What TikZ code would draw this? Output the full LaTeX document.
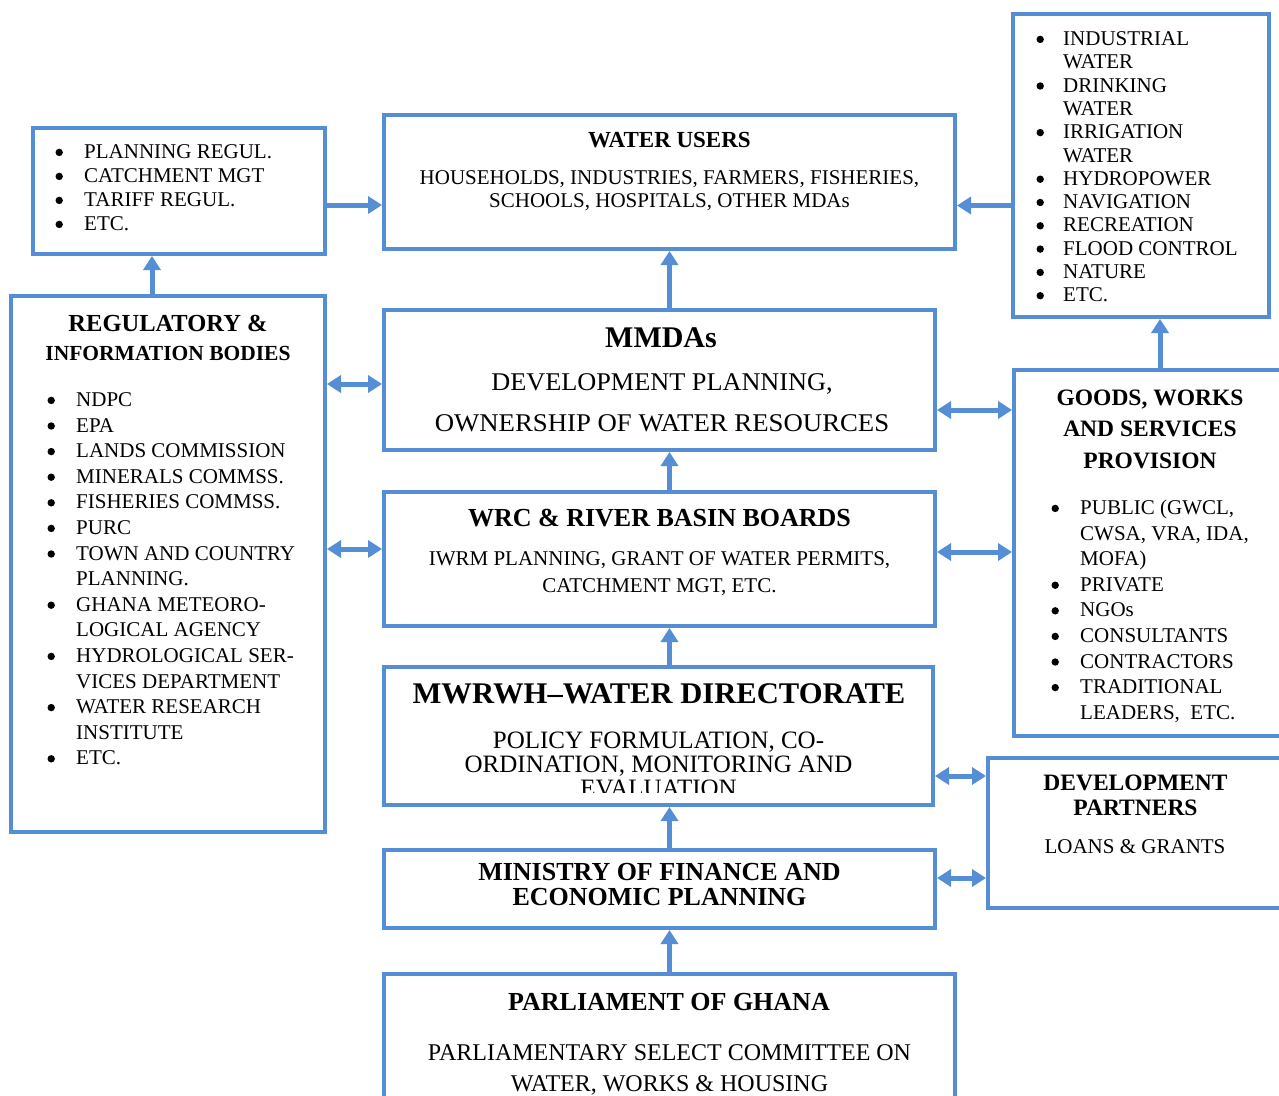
\documentclass[tikz,border=0pt]{standalone}
\usepackage{fontspec}
\setmainfont{Liberation Serif}
\usetikzlibrary{arrows.meta}
\definecolor{bl}{HTML}{558ED5}
\newcommand\bdot{\raisebox{2.4pt}{\tikz\fill[black] (0,0) circle (3.7pt);}}
\newcommand\bu{\llap{\bdot\hspace{21.3pt}}}
\newcommand\bc{\llap{\bdot\hspace{19.3pt}}}
\begin{document}
\begin{tikzpicture}[x=1pt,y=-1pt,
 bx/.style={draw=bl, line width=4pt, rectangle, inner sep=0pt},
 tx/.style={inner sep=0pt, anchor=base},
 ls/.style={inner sep=0pt, anchor=base west},
 arr/.style={draw=bl, line width=5pt, -{Triangle[length=14pt,width=17pt]}},
 darr/.style={draw=bl, line width=5pt, {Triangle[length=14pt,width=17pt]}-{Triangle[length=14pt,width=17pt]}}]
\clip (0,0) rectangle (1279,1095);
\fill[white] (0,0) rectangle (1279,1095);
% boxes
\node[bx, minimum width=292pt, minimum height=126pt] (A) at (179,191) {};
\node[bx, minimum width=571pt, minimum height=134pt] (B) at (669.5,182) {};
\node[bx, minimum width=256pt, minimum height=303pt] (C) at (1141,165.5) {};
\node[bx, minimum width=314pt, minimum height=536pt] (D) at (168,564) {};
\node[bx, minimum width=551pt, minimum height=140pt] (E) at (659.5,380) {};
\node[bx, minimum width=276pt, minimum height=366pt] (F) at (1152,553) {};
\node[bx, minimum width=551pt, minimum height=134pt] (G) at (659.5,559) {};
\node[bx, minimum width=549pt, minimum height=138pt] (H) at (658.5,736) {};
\node[bx, minimum width=302pt, minimum height=150pt] (I) at (1139,833) {};
\node[bx, minimum width=551pt, minimum height=78pt] (J) at (659.5,889) {};
\node[bx, minimum width=571pt, minimum height=136pt] (K) at (669.5,1042) {};
% texts
\node[ls, font=\fontsize{21}{24}\selectfont] (At) at (84,158.5) {\begin{tabular}[t]{@{}l@{}}\bu PLANNING REGUL.\\ \bu CATCHMENT MGT\\ \bu TARIFF REGUL.\\ \bu ETC.\end{tabular}};
\node[tx, font=\fontsize{23}{27}\selectfont\bfseries] (Bt) at (669.5,147) {WATER USERS};
\node[tx, font=\fontsize{21}{23}\selectfont] (Bb) at (669.5,184.5) {\begin{tabular}[t]{@{}c@{}}HOUSEHOLDS, INDUSTRIES, FARMERS, FISHERIES,\\ SCHOOLS, HOSPITALS, OTHER MDAs\end{tabular}};
\node[ls, font=\fontsize{21}{23.3}\selectfont] (Cl) at (1063,45.5) {\begin{tabular}[t]{@{}l@{}}\bc INDUSTRIAL\\ WATER\\ \bc DRINKING\\ WATER\\ \bc IRRIGATION\\ WATER\\ \bc HYDROPOWER\\ \bc NAVIGATION\\ \bc RECREATION\\ \bc FLOOD CONTROL\\ \bc NATURE\\ \bc ETC.\end{tabular}};
\node[tx, font=\bfseries\fontsize{21.5}{29}\selectfont] (Dt) at (168,331) {\begin{tabular}[t]{@{}c@{}}{\fontsize{24.5}{29}\selectfont REGULATORY \&}\\ INFORMATION BODIES\end{tabular}};
\node[ls, font=\fontsize{21}{25.6}\selectfont] (Dl) at (76,406.5) {\begin{tabular}[t]{@{}l@{}}\bu NDPC\\ \bu EPA\\ \bu LANDS COMMISSION\\ \bu MINERALS COMMSS.\\ \bu FISHERIES COMMSS.\\ \bu PURC\\ \bu TOWN AND COUNTRY\\ PLANNING.\\ \bu GHANA METEORO-\\ LOGICAL AGENCY\\ \bu HYDROLOGICAL SER-\\ VICES DEPARTMENT\\ \bu WATER RESEARCH\\ INSTITUTE\\ \bu ETC.\end{tabular}};
\node[tx, font=\fontsize{30}{34}\selectfont\bfseries] (Et) at (661,347.5) {MMDAs};
\node[tx, font=\fontsize{25.5}{41}\selectfont] (Eb) at (662,390) {\begin{tabular}[t]{@{}c@{}}\scalebox{1.03}[1]{DEVELOPMENT PLANNING,}\\ \scalebox{1.05}[1]{OWNERSHIP OF WATER RESOURCES}\end{tabular}};
\node[tx, font=\bfseries\fontsize{23.5}{31.5}\selectfont] (Ft) at (1150,405) {\begin{tabular}[t]{@{}c@{}}GOODS, WORKS\\ AND SERVICES\\ PROVISION\end{tabular}};
\node[ls, font=\fontsize{21}{25.6}\selectfont] (Fl) at (1080,514.5) {\begin{tabular}[t]{@{}l@{}}\bu PUBLIC (GWCL,\\ CWSA, VRA, IDA,\\ MOFA)\\ \bu PRIVATE\\ \bu NGOs\\ \bu CONSULTANTS\\ \bu CONTRACTORS\\ \bu TRADITIONAL\\ LEADERS,\ \ ETC.\end{tabular}};
\node[tx, font=\fontsize{26}{30}\selectfont\bfseries] (Gt) at (659.5,526) {WRC \& RIVER BASIN BOARDS};
\node[tx, font=\fontsize{21}{27}\selectfont] (Gb) at (659.5,565) {\begin{tabular}[t]{@{}c@{}}IWRM PLANNING, GRANT OF WATER PERMITS,\\ CATCHMENT MGT, ETC.\end{tabular}};
\node[tx, font=\fontsize{30}{34}\selectfont\bfseries] (Ht) at (659,703) {\scalebox{1.02}[1]{MWRWH–WATER DIRECTORATE}};
\begin{scope}
\clip (H.north west) rectangle ([yshift=14.5pt]H.south east);
\node[tx, font=\fontsize{25}{24}\selectfont] (Hb) at (658.5,748) {\begin{tabular}[t]{@{}c@{}}POLICY FORMULATION, CO-\\ ORDINATION, MONITORING AND\\ EVALUATION\end{tabular}};
\end{scope}
\node[tx, font=\bfseries\fontsize{23.5}{25}\selectfont] (It) at (1135.5,790) {\begin{tabular}[t]{@{}c@{}}DEVELOPMENT\\ PARTNERS\end{tabular}};
\node[tx, font=\fontsize{21}{24}\selectfont] (Ib) at (1135,853.5) {LOANS \& GRANTS};
\node[tx, font=\bfseries\fontsize{26}{25}\selectfont] (Jt) at (659.5,880.5) {\begin{tabular}[t]{@{}c@{}}MINISTRY OF FINANCE AND\\ ECONOMIC PLANNING\end{tabular}};
\node[tx, font=\fontsize{26}{30}\selectfont\bfseries] (Kt) at (669,1010.5) {PARLIAMENT OF GHANA};
\node[tx, font=\fontsize{24}{31}\selectfont] (Kb) at (669.5,1060) {\begin{tabular}[t]{@{}c@{}}PARLIAMENTARY SELECT COMMITTEE ON\\ WATER, WORKS \& HOUSING\end{tabular}};
% connectors
\coordinate (p1) at ([yshift=-14pt]A.east);
\draw[arr] (p1) -- (p1 -| B.west);
\coordinate (p2) at ([yshift=-40pt]C.west);
\draw[arr] (p2) -- (p2 -| B.east);
\coordinate (p3) at ([xshift=-16pt]D.north);
\draw[arr] (p3) -- (p3 |- A.south);
\draw[arr] (E.north -| B.south) -- (B.south);
\coordinate (p4) at ([yshift=-4pt]E.west);
\draw[darr] (p4 -| D.east) -- (p4);
\coordinate (p5) at ([yshift=-30pt]E.east);
\draw[darr] (p5) -- (p5 -| F.west);
\draw[arr] (G.north -| B.south) -- (E.south -| B.south);
\coordinate (p6) at ([yshift=10pt]G.west);
\draw[darr] (p6 -| D.east) -- (p6);
\coordinate (p7) at ([yshift=7pt]G.east);
\draw[darr] (p7) -- (p7 -| F.west);
\coordinate (p8) at ([xshift=19pt]C.south);
\draw[arr] (p8 |- F.north) -- (p8);
\draw[arr] (H.north -| B.south) -- (G.south -| B.south);
\coordinate (p9) at ([yshift=-40pt]H.east);
\draw[darr] (p9) -- (p9 -| I.west);
\draw[arr] (J.north -| B.south) -- (H.south -| B.south);
\coordinate (p10) at ([yshift=11pt]J.east);
\draw[darr] (p10) -- (p10 -| I.west);
\draw[arr] (K.north) -- (K.north |- J.south);
\end{tikzpicture}
\end{document}
